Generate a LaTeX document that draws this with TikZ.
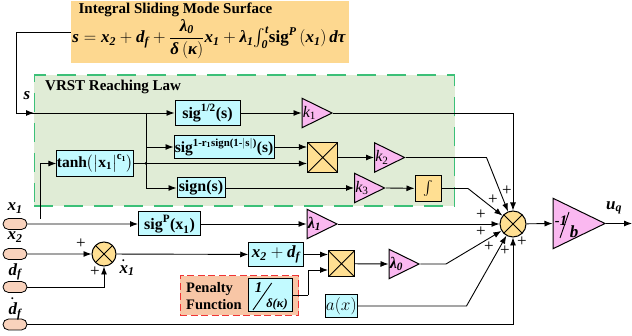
\documentclass[tikz,border=0pt]{standalone}
\usepackage{amsmath}
\usepackage[no-math]{fontspec}
\setmainfont{Liberation Serif}
\usetikzlibrary{arrows.meta,positioning,calc,shapes.geometric,shapes.misc}
\definecolor{fnfill}{HTML}{C2FAFF}
\definecolor{gainfill}{HTML}{FAB8F0}
\definecolor{mulfill}{HTML}{FFDF92}
\definecolor{surffill}{HTML}{FDD890}
\definecolor{lawfill}{HTML}{E0ECD6}
\definecolor{lawdash}{HTML}{3CC078}
\definecolor{penfill}{HTML}{F8C6A6}
\definecolor{pendash}{HTML}{F03434}
\definecolor{portfill}{HTML}{F9D2BC}
\newcommand{\tb}[1]{\text{\bfseries #1}}
\newcommand{\ti}[1]{\text{\bfseries\itshape #1}}
\newcommand{\tk}[2]{\text{\itshape #1}_{\text{#2}}}
\newcommand{\fsz}[1]{\fontsize{#1}{#1}\selectfont}
\tikzset{
  fnbox/.style    = {draw, line width=1pt, rectangle, fill=fnfill, inner sep=0pt, align=center},
  mulbox/.style   = {draw, line width=1pt, rectangle, fill=mulfill, inner sep=0pt, minimum size=#1,
                     path picture={\draw[line width=0.9pt] (path picture bounding box.north west) -- (path picture bounding box.south east)
                       (path picture bounding box.north east) -- (path picture bounding box.south west);}},
  sumnode/.style  = {draw, line width=1pt, circle, fill=mulfill, inner sep=0pt, minimum size=#1,
                     path picture={\draw[line width=0.9pt] (path picture bounding box.north west) -- (path picture bounding box.south east)
                       (path picture bounding box.north east) -- (path picture bounding box.south west);}},
  gain/.style     = {draw, line width=1pt, isosceles triangle, isosceles triangle stretches, shape border rotate=0,
                     anchor=lower side, fill=gainfill, inner sep=0pt, minimum width=29.5pt, minimum height=30pt,
                     font=\fsz{16}},
  port/.style     = {draw, line width=0.8pt, rounded rectangle, fill=portfill, inner sep=0pt, minimum width=24pt, minimum height=11pt},
  pickoff/.style  = {fill, circle, inner sep=0pt, minimum size=3pt},
  sig/.style      = {-{Latex[length=8pt,width=6pt]}, line width=0.9pt},
  wire/.style     = {line width=0.9pt},
  lbl/.style      = {font=\fsz{17}\bfseries\itshape, inner sep=0pt},
  pluslbl/.style  = {font=\fsz{17}, inner sep=0pt},
}
\begin{document}
\begin{tikzpicture}[x=1pt,y=-1pt]
\useasboundingbox (0,0) rectangle (632,336);
% shaded groups
\node[fill=surffill, minimum width=278pt, minimum height=62pt, inner sep=0pt] (surface) at (210,32) {};
\node[draw=lawdash, fill=lawfill, line width=1.1pt, dash pattern=on 19pt off 11pt, minimum width=420.5pt, minimum height=131pt, inner sep=0pt] (law) at (244.3,140.5) {};
\node[draw=pendash, fill=penfill, line width=1.1pt, dash pattern=on 7pt off 3.5pt, minimum width=118.5pt, minimum height=39.5pt, inner sep=0pt] (penalty) at (239.3,295.7) {};
\node[font=\fsz{15}\bfseries, inner sep=0pt] (surftitle) at (175.5,10) {Integral Sliding Mode Surface};
\node[font=\fsz{17}, inner sep=0pt] (surfeq) at (209,39)
  {$\ti{s}=\ti{x}_{\ti{2}}+\ti{d}_{\ti{f}}+\dfrac{\ti{λ}_{\ti{0}}}{\ti{δ}\left(\ti{κ}\right)}\ti{x}_{\ti{1}}+\ti{λ}_{\ti{1}}\!\int_{\ti{0}}^{\ti{t}}\!\tb{sig}^{\ti{P}}\left(\ti{x}_{\ti{1}}\right)\ti{dτ}$};
\node[font=\fsz{15}\bfseries, inner sep=0pt, anchor=west] (lawtitle) at (45,87) {VRST Reaching Law};
\node[lbl] (slbl) at (27,96) {s};
% reaching law blocks
\node[fnbox, minimum width=65pt, minimum height=25pt, font=\fsz{16}] (sighalf) at (207.5,113) {$\tb{sig}^{\tb{1/2}}\tb{(s)}$};
\node[fnbox, minimum width=100pt, minimum height=23pt, font=\fsz{15.5}] (sigvar) at (224,147) {$\tb{sig}^{\tb{1-r}_{\tb{1}}\tb{sign(1-}|\tb{s}|\tb{)}}\tb{(s)}$};
\node[fnbox, minimum width=75pt, minimum height=26pt, font=\fsz{15.5}] (tanhbox) at (95,163.5) {$\tb{tanh}\bigl(\bigl|\tb{x}_{\tb{1}}\bigr|^{\tb{c}_{\tb{1}}}\bigr)$};
\node[fnbox, minimum width=48pt, minimum height=20pt, font=\fsz{16}\bfseries] (signbox) at (201,188) {sign(s)};
\node[gain] (k1) at (301.5,113) {$\tk{k}{1}$};
\node[mulbox=30.5pt] (mulA) at (322.7,157.5) {};
\node[gain] (k2) at (374,157.5) {$\tk{k}{2}$};
\node[gain] (k3) at (354,188) {$\tk{k}{3}$};
\node[fnbox, fill=mulfill, minimum width=26pt, minimum height=26pt, font=\fsz{14}] (intbox) at (428,188.5) {$\int$};
% lower blocks
\node[port] (pX1) at (15,224) {};
\node[port] (pX2) at (15,254) {};
\node[port] (pDf) at (15,287) {};
\node[port] (pDd) at (15,324.5) {};
\node[lbl] at (15,208) (lX1) {$\ti{x}_{\ti{1}}$};
\node[lbl] at (15,237) (lX2) {$\ti{x}_{\ti{2}}$};
\node[lbl] at (15,272) (lDf) {$\ti{d}_{\ti{f}}$};
\node[lbl] at (15,308) (lDd) {$\overset{\tb{.}}{\ti{d}}_{\ti{f}}$};
\node[fnbox, minimum width=62pt, minimum height=24pt, font=\fsz{16}] (sigP) at (169.5,224) {$\tb{sig}^{\tb{P}}\tb{(x}_{\tb{1}}\tb{)}$};
\node[gain] (lam1) at (306.5,224) {$\ti{λ}_{\ti{1}}$};
\node[sumnode=24pt] (sumX) at (104,254) {};
\node[lbl] (dx1) at (127,267) {$\overset{\tb{.}}{\ti{x}}_{\ti{1}}$};
\node[fnbox, minimum width=54.5pt, minimum height=24pt, font=\fsz{17}] (x2df) at (276,254.5) {$\ti{x}_{\ti{2}}+\ti{d}_{\ti{f}}$};
\node[mulbox=26pt] (mulB) at (341.5,263.7) {};
\node[gain] (lam0) at (388.5,264) {$\ti{λ}_{\ti{0}}$};
\node[font=\fsz{14.5}\bfseries, align=left, inner sep=0pt, anchor=west] (pentxt) at (186,296) {Penalty\\[3pt]Function};
\node[fnbox, minimum width=44pt, minimum height=33pt] (delta) at (270.5,295.5) {};
\node[fnbox, minimum width=32.5pt, minimum height=23pt, font=\fsz{16}\itshape] (ax) at (341.3,306) {$a(x)$};
\node[font=\fsz{15}\bfseries\itshape, inner sep=0pt] (one) at (258.5,288) {1};
\node[font=\fsz{12.5}\bfseries\itshape, inner sep=0pt] (dk) at (277,304) {δ(κ)};
\draw[line width=0.9pt] (271.7,283) -- (253,310);
% output side
\node[sumnode=26pt] (sum) at (513,224) {};
\node[gain, minimum width=50.5pt, minimum height=52pt] (gainb) at (552.5,223.5) {};
\node[font=\fsz{14.5}\bfseries\itshape, inner sep=0pt] (minus) at (561,220.5) {-1};
\node[font=\fsz{17}\bfseries\itshape, inner sep=0pt] (bsym) at (574,232) {b};
\draw[line width=0.9pt] (569,212) -- (560,238);
\node[lbl] (uq) at (614,208) {$\ti{u}_{\ti{q}}$};
\coordinate (end) at (632,223.5);
% bends
\coordinate (fbA) at (16,32);
\coordinate (fbB) at (16,113);
\coordinate (split) at (146,113);
\coordinate (tanhup) at (40,219);
\coordinate (k2bend) at (486.5,157.5);
\coordinate (intbend) at (468,188.5);
\coordinate (lambend) at (446,264);
\coordinate (axbend) at (466.5,306);
\coordinate (penbend) at (308,295.5);
% connectors
\draw[wire] (surface.west) -- (fbA) -- (fbB) -- (law.west |- fbB);
\draw[sig] (fbB) -- (34,113);
\draw[sig] (34,113) -- (sighalf);
\draw[wire] (split) -- (146,188);
\draw[sig] (146,147) -- (sigvar.west |- 146,147);
\draw[sig] (146,188) -- (signbox);
\draw[sig] (tanhup) |- (tanhbox.west);
\node[pickoff] (hop) at (146,163.5) {};
\draw[sig] (tanhbox.east) -- (mulA.west |- tanhbox.east);
\draw[sig] (sigvar.east) -- (mulA.west |- sigvar.east);
\draw[sig] (sighalf) -- (k1.lower side);
\draw[sig] (signbox) -- (k3.lower side);
\draw[sig] (mulA) -- (k2.lower side);
\draw[sig] (k3.apex) -- (intbox);
\draw[sig] (k1.apex) -| (sum.north);
\draw[sig] (k2.apex) -- (k2bend) -- (sum);
\draw[sig] (intbox) -- (intbend) -- (sum);
\draw[sig] (pX1) -- (sigP);
\draw[sig] (sigP) -- (lam1.lower side);
\draw[sig] (lam1.apex) -- (sum);
\draw[sig] (pX2) -- (sumX);
\draw[sig] (pDf) -| (sumX.south);
\draw[sig] (sumX) -- (x2df);
\draw[sig] (x2df) -- (mulB.west |- x2df);
\draw[wire] (delta) -- (penbend);
\draw[sig] (penbend) |- (mulB.west |- 0,270);
\draw[sig] (mulB) -- (lam0.lower side);
\draw[sig] (lam0.apex) -- (lambend) -- (sum);
\draw[sig] (ax) -- (axbend) -- (sum);
\draw[sig] (pDd) -| (sum.south);
\draw[sig] (sum) -- (gainb.lower side);
\draw[sig] (gainb.apex) -- (end);
% signs
\node[pluslbl] (pa) at (81,244) {+};
\node[pluslbl] (pb) at (95,272) {+};
\node[pluslbl] (pc) at (507,191) {+};
\node[pluslbl] (pd) at (493,200) {+};
\node[pluslbl] (pe) at (481,215) {+};
\node[pluslbl] (pf) at (481,232) {+};
\node[pluslbl] (pg) at (489,247) {+};
\node[pluslbl] (ph) at (505,251) {+};
\node[pluslbl] (pi) at (522,242) {+};
\end{tikzpicture}
\end{document}
